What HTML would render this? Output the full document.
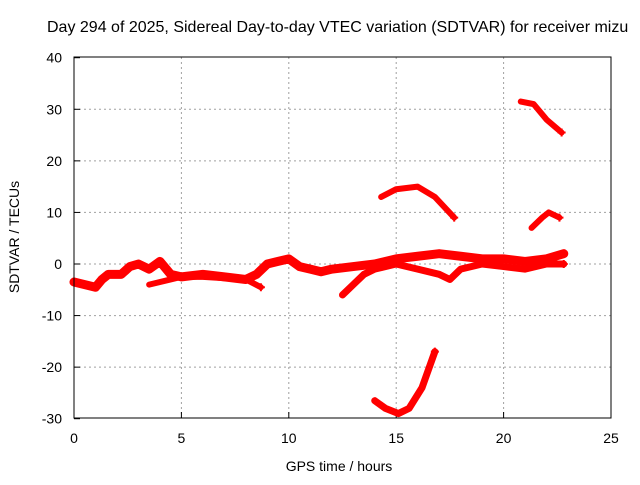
<!DOCTYPE html>
<html><head><meta charset="utf-8"><style>
body{margin:0;background:#fff;width:640px;height:480px;overflow:hidden}
svg text{font-family:"Liberation Sans",sans-serif;font-size:14px;fill:#000}
</style></head><body>
<svg id="c" width="640" height="480">
<text x="47" y="32" style="font-size:16px">Day 294 of 2025, Sidereal Day-to-day VTEC variation (SDTVAR) for receiver mizu</text>
<text x="339" y="471" text-anchor="middle">GPS time / hours</text>
<text transform="translate(19,237) rotate(-90)" text-anchor="middle">SDTVAR / TECUs</text>
<g id="grid"></g><g id="marks"></g>
<rect x="74" y="57" width="537" height="361" fill="none" stroke="#000" stroke-width="1"/>
</svg>
<script>
const xTicks=[0,5,10,15,20,25];
const yTicks=[-30,-20,-10,0,10,20,30,40];
const segBandA=[[0,-3.5],[0.5,-4],[1,-4.5],[1.3,-3],[1.6,-2],[2.2,-2],[2.6,-0.5],[3,0],[3.5,-1],[4,0.5],[4.5,-2],[5,-2.5],[6,-2],[7,-2.5],[8,-3],[8.5,-2],[9,0],[9.5,0.5],[10,1],[10.5,-0.5],[11,-1],[11.5,-1.5],[12,-1],[13,-0.5],[14,0],[15,1],[16,1.5],[17,2],[18,1.5],[19,1],[20,1],[21,0.5],[22,1],[22.8,2]];
const segBandB=[[3.5,-4],[4.5,-3],[5,-2.5],[6,-2.5],[8,-3],[8.7,-4.5]];
const segBandC=[[12.5,-6],[13,-4],[13.5,-2],[14,-1],[15,0],[16,-1],[17,-2],[17.5,-3],[18,-1],[19,0],[20,-0.5],[21,-1],[22,0],[22.8,0]];
const segArcUp=[[14.3,13],[15,14.5],[16,15],[16.8,13],[17.7,9]];
const segTop=[[20.8,31.5],[21.4,31],[22,28],[22.7,25.5]];
const segMid=[[21.3,7],[21.8,9],[22.1,10],[22.6,9]];
const segLow=[[14,-26.5],[14.5,-28],[15.1,-29],[15.6,-28],[16.2,-24],[16.8,-17]];
const series=[segBandA,segBandB,segBandC,segArcUp,segTop,segMid,segLow];
const widths=[9,6,7,6,6,6,7];
const X=v=>74+v*537/25, Y=v=>264-v*361/70;
const NS="http://www.w3.org/2000/svg";
const g=document.getElementById('grid'), m=document.getElementById('marks'), svg=document.getElementById('c');
function mk(t,a,p){const e=document.createElementNS(NS,t);for(const k in a)e.setAttribute(k,a[k]);p.appendChild(e);return e;}
xTicks.forEach(v=>{
 if(v>0&&v<25){const l=mk('line',{x1:X(v),x2:X(v),y1:57,y2:418,stroke:'#a0a0a0','stroke-dasharray':'2,3'},g);
 
 }
 const t=mk('text',{x:X(v),y:443,'text-anchor':'middle'},svg);t.textContent=v;
 
 
 mk('line',{x1:X(v),x2:X(v),y1:418,y2:412,stroke:'#000'},g);
});
yTicks.forEach(v=>{
 if(v>-30&&v<40){const l=mk('line',{x1:74,x2:611,y1:Y(v),y2:Y(v),stroke:'#a0a0a0','stroke-dasharray':'2,3'},g);
 
 }
 const t=mk('text',{x:62,y:Y(v)+5,'text-anchor':'end'},svg);t.textContent=v;
 
 
 mk('line',{x1:74,x2:80,y1:Y(v),y2:Y(v),stroke:'#000'},g);
});
series.forEach((s,i)=>{
 const p=mk('polyline',{points:s.map(d=>X(d[0])+','+Y(d[1])).join(' '),fill:'none',stroke:'#f00','stroke-width':widths[i],'stroke-linejoin':'round','stroke-linecap':'round'},m);
 
 
 const e=s[s.length-1];
 mk('path',{d:`M${X(e[0])-4},${Y(e[1])}h8M${X(e[0])},${Y(e[1])-4}v8`,stroke:'#f00','stroke-width':2},m);
});
</script>
</body></html>
